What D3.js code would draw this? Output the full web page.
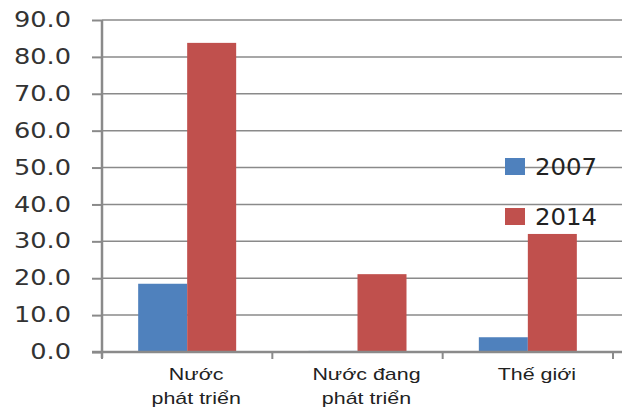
<!DOCTYPE html>
<html><head><meta charset="utf-8">
<script src="https://cdn.jsdelivr.net/npm/d3@7"></script>
<style>body{margin:0;background:#fff}svg{display:block}</style>
</head><body>
<svg id="c" width="622" height="412"></svg>
<script>
const categories = [["Nước","phát triển"],["Nước đang","phát triển"],["Thế giới"]];
const seriesNames = ["2007","2014"];
const values2007 = [18.5, 0.3, 4.0];
const values2014 = [83.8, 21.1, 32.0];
const yTicks = [0,10,20,30,40,50,60,70,80,90];
const colors = ["#4F81BD","#C0504D"];

(function(){
const svg = d3.select("#c");
const mLeft = 102, mRight = 613, mTop = 20, mBottom = 352;
const x = d3.scaleBand().domain(d3.range(categories.length)).range([mLeft,mRight]).paddingInner(0).paddingOuter(0);
const y = d3.scaleLinear().domain([0,90]).range([mBottom,mTop]);
const grey = "#8a8a8a";
const stretch = (sel, k) => sel.each(function(){
  const w = this.getComputedTextLength();
  d3.select(this).attr("textLength", w*k).attr("lengthAdjust","spacingAndGlyphs");
});

// gridlines
svg.append("g").selectAll("line").data(yTicks.filter(d=>d>0)).join("line")
  .attr("x1",mLeft).attr("x2",622).attr("y1",d=>y(d)).attr("y2",d=>y(d))
  .attr("stroke",grey).attr("stroke-width",1.5);

// y axis
const ya = svg.append("g").attr("transform",`translate(${mLeft},0)`)
  .call(d3.axisLeft(y).tickValues(yTicks).tickFormat(d3.format(".1f")).tickSize(10).tickPadding(21));
ya.select(".domain").attr("stroke",grey).attr("stroke-width",2.5).attr("d",`M0,${mTop}V${mBottom+6}`);
ya.selectAll(".tick line").attr("stroke",grey).attr("stroke-width",2);
ya.selectAll(".tick text").attr("font-family","DejaVu Sans, Verdana, sans-serif").attr("font-size",20.5).attr("fill","#333")
  .call(stretch, 1.25);

// bars
const bw = 49;
const series = [values2007, values2014];
series.forEach((vals,si)=>{
  svg.append("g").selectAll("rect").data(vals).join("rect")
    .attr("x",(d,i)=>x(i)+x.bandwidth()/2 - bw + si*bw)
    .attr("width",bw)
    .attr("y",d=>y(d)).attr("height",d=>mBottom-y(d))
    .attr("fill",colors[si]);
});

// x axis
svg.append("line").attr("x1",mLeft-10).attr("x2",622).attr("y1",mBottom).attr("y2",mBottom)
  .attr("stroke",grey).attr("stroke-width",2.5);
svg.append("g").selectAll("line").data(d3.range(categories.length+1)).join("line")
  .attr("x1",i=>mLeft+i*x.bandwidth()).attr("x2",i=>mLeft+i*x.bandwidth())
  .attr("y1",mBottom).attr("y2",mBottom+7).attr("stroke",grey).attr("stroke-width",2);

// x labels
const xl = svg.append("g");
categories.forEach((lines,i)=>{
  lines.forEach((ln,k)=>{
    xl.append("text").attr("font-family","Liberation Sans, Arial, sans-serif").attr("font-size",17).attr("fill","#222")
      .attr("text-anchor","middle")
      .attr("x",x(i)+x.bandwidth()/2+9).attr("y",380+k*24).text(ln);
  });
});
xl.selectAll("text").call(stretch, 1.26);

// legend
const lg = svg.append("g");
seriesNames.forEach((n,i)=>{
  lg.append("rect").attr("x",505).attr("y",158+i*50).attr("width",20).attr("height",17).attr("fill",colors[i]);
  lg.append("text").attr("x",535).attr("y",175+i*50).attr("font-family","DejaVu Sans, Verdana, sans-serif")
    .attr("font-size",23).attr("fill","#222").text(n);
});
lg.selectAll("text").call(stretch, 1.06);
})();
</script>
</body></html>
